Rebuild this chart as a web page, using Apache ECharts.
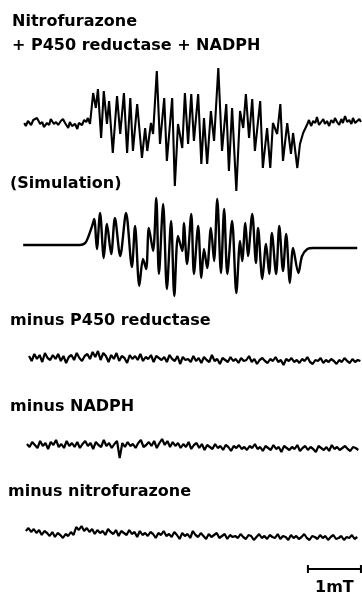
<!DOCTYPE html>
<html>
<head>
<meta charset="utf-8">
<script src="https://cdn.jsdelivr.net/npm/echarts@6/dist/echarts.min.js"></script>
<style>html,body{margin:0;padding:0;background:#fff}#c{width:362px;height:597px}</style>
</head>
<body>
<div id="c"></div>
<script>
// Field in mT, intensity in arbitrary units (positive = up)
const labels = ["Nitrofurazone", "+ P450 reductase + NADPH", "(Simulation)", "minus P450 reductase", "minus NADPH", "minus nitrofurazone"];
const scaleBarLabel = "1mT";
const scaleBarField = [5.43, 6.43];

const field1 = [0.08,0.11,0.15,0.21,0.25,0.28,0.32,0.38,0.42,0.45,0.51,0.55,0.58,0.64,0.68,0.72,0.77,0.81,0.85,0.91,0.94,0.98,1.04,1.08,1.11,1.17,1.21,1.25,1.28,1.32,
1.38,1.43,1.47,1.53,1.58,1.64,1.68,1.75,1.83,1.89,1.96,2.02,2.08,2.13,2.21,2.30,2.36,2.40,2.47,2.51,2.58,2.64,2.72,2.77,2.87,2.92,2.98,3.06,3.11,3.17,3.23,3.28,3.36,3.42,3.47,3.53,3.60,3.66,3.74,3.81,3.89,3.94,4.00,4.08,4.15,4.21,4.26,4.32,4.38,4.43,4.53,4.58,4.66,4.72,4.77,4.85,4.91,4.96,5.04,5.11,5.15,5.23,5.28,5.34,
5.42,5.45,5.49,5.53,5.57,5.60,5.64,5.68,5.72,5.75,5.79,5.83,5.87,5.91,5.94,5.98,6.02,6.06,6.09,6.13,6.17,6.21,6.25,6.28,6.32,6.36,6.40,6.43];
const intensity1 = [0,-3,2,-2,3,1,5,-1,1,-4,0,-2,4,-1,1,-2,2,4,0,-5,1,-3,-1,-6,0,-2,3,1,5,-1,
30,15,34,-15,32,-1,22,-30,27,-11,30,-30,25,-28,19,-35,-5,-28,0,-11,52,-21,25,-38,25,-63,-1,-25,30,-21,29,-18,29,-41,5,-41,12,-18,55,-28,19,-48,15,-68,12,-5,29,-15,24,-28,22,-45,-5,-45,0,-11,19,-38,0,-31,-10,-45,-21,-10,
-1,3,-3,2,0,6,-2,1,4,-1,2,-3,3,0,5,1,-2,4,0,7,1,3,-1,5,0,2,4,1];

// Trace 2: simulation
const field2 = [0.06,0.38,0.75,1.13,1.23,1.28,1.36,1.40,1.45,1.51,1.58,1.64,1.72,1.79,1.89,2.00,2.11,2.17,2.25,2.32,2.38,2.43,2.51,2.57,2.62,2.70,2.77,2.85,2.91,2.98,3.06,3.09,3.15,3.23,3.28,3.36,3.42,3.47,3.53,3.60,3.66,3.72,3.79,3.85,3.91,4.00,4.08,4.15,4.19,4.25,4.30,4.38,4.45,4.49,4.57,4.64,4.70,4.75,4.83,4.89,4.96,5.02,5.09,5.15,5.25,5.32,5.42,5.53,5.66,5.79,6.04,6.36];
const intensity2 = [0,0,0,0,2,7,19,26,-4,32,-13,21,-9,27,-11,32,-22,19,-41,-14,-24,17,-6,47,-29,41,-44,24,-51,9,-6,22,-19,31,-29,19,-33,-4,-23,17,-16,46,-28,36,-29,24,-48,4,-16,22,-11,31,-18,17,-34,1,-29,12,-29,19,-26,11,-38,-3,-28,-11,-4,-3,-3,-3,-3,-3];

// Control traces: uniform field sweep (start, step in mT)
const sweepStep = 0.05;
const start3 = 0.17, start4 = 0.13, start5 = 0.11;
const intensity3 = [2,-3,4,-1,3,-4,5,0,-2,3, -1,4,-3,2,-5,1,3,-2,5,0, -3,2,4,-1,6,1,7,-2,5,2, -4,3,-1,5,-3,2,0,-5,3,-1,
2,-2,4,-3,1,-1,3,-4,2,0, -2,1,-4,3,-1,-3,2,-6,1,-2, -1,-4,2,-3,0,-5,1,-2,-4,3, -3,-1,-6,0,-2,-4,1,-3,-1,-5,
0,-3,-2,2,-4,-1,-6,-2,0,-3, -5,-1,-3,1,-4,-2,-7,-1,-3,0, -4,-2,-5,-1,-3,1,-4,-6,-2,-3, 0,-5,-2,-4,-1,-3,-6,-2,-4,0, -3,-5,-1,-4,-2,-3];
const intensity4 = [1,-2,3,0,-3,4,-1,2,-4,3, 0,5,-2,1,-3,4,-1,2,-2,3, -3,1,4,-1,2,-4,3,0,-2,5, -1,2,-3,1,4,-13,2,-2,3,-1,
1,-3,2,5,-2,0,3,-1,4,-3, 2,6,0,4,-2,3,-1,2,-3,1, -2,3,-4,0,2,-3,1,-5,0,-2, -4,1,-3,-1,-5,0,-2,-6,-1,-3,
0,-4,-2,-5,-1,-3,1,-4,-2,-6, -1,-3,-5,0,-4,-2,-7,-1,-3,-5, -2,-4,0,-6,-3,-1,-5,-2,-4,-7, -1,-3,-5,-2,-6,0,-4,-2,-5,-3, -1,-4,-6,-2,-3,-5];
const intensity5 = [2,5,1,4,0,3,-2,2,0,-3, 1,-4,0,-2,-5,-1,-3,1,-2,6, 3,7,2,5,1,4,-1,3,0,2, -2,4,1,-1,3,-3,2,0,-2,3,
-1,1,-4,2,-2,0,-3,1,-1,-5, 0,-2,2,-3,-1,-4,1,-2,-6,0, -3,-1,-5,2,-2,-4,0,-3,-6,-1, -4,-2,0,-5,-3,-1,-6,-2,-4,-3,
-5,-1,-4,-6,-2,-3,-7,-4,-1,-5, -3,-6,-2,-4,-5,-1,-6,-3,-4,-7, -2,-5,-3,-6,-4,-1,-5,-7,-3,-4, -6,-2,-5,-3,-7,-4,-2,-6,-5,-3, -7,-4,-5,-2,-6,-4];

function pairs(xs, ys) { return ys.map((y, i) => [xs[i], y]); }
function sweep(start, ys) { return ys.map((y, i) => [+(start + i * sweepStep).toFixed(3), y]); }

// grid layout: [top, height, yMin, yMax]
const gridsSpec = [
  [55, 145, -77, 68],
  [190, 115, -60, 55],
  [340, 36, -18, 18],
  [427, 36, -18, 18],
  [513, 36, -16, 20],
  [559, 20, -10, 10]
];
const grid = gridsSpec.map(g => ({ left: 20, right: 0, top: g[0], height: g[1] }));
const xAxis = gridsSpec.map((g, i) => ({ type: 'value', gridIndex: i, min: 0, max: 6.45, show: false }));
const yAxis = gridsSpec.map((g, i) => ({ type: 'value', gridIndex: i, min: g[2], max: g[3], show: false }));

const lineBase = { type: 'line', showSymbol: false, silent: true, animation: false };
const series = [
  Object.assign({}, lineBase, { xAxisIndex: 0, yAxisIndex: 0, data: pairs(field1, intensity1), lineStyle: { color: '#000', width: 2.1 } }),
  Object.assign({}, lineBase, { xAxisIndex: 1, yAxisIndex: 1, data: pairs(field2, intensity2), smooth: 0.3, lineStyle: { color: '#000', width: 2.4 } }),
  Object.assign({}, lineBase, { xAxisIndex: 2, yAxisIndex: 2, data: sweep(start3, intensity3), lineStyle: { color: '#000', width: 2.2 } }),
  Object.assign({}, lineBase, { xAxisIndex: 3, yAxisIndex: 3, data: sweep(start4, intensity4), lineStyle: { color: '#000', width: 2.2 } }),
  Object.assign({}, lineBase, { xAxisIndex: 4, yAxisIndex: 4, data: sweep(start5, intensity5), lineStyle: { color: '#000', width: 2.2 } }),
  { type: 'line', xAxisIndex: 5, yAxisIndex: 5, silent: true, animation: false,
    data: scaleBarField.map(f => [f, 0]), showSymbol: true, symbol: 'rect', symbolSize: [2, 8],
    itemStyle: { color: '#000' }, lineStyle: { color: '#000', width: 2 } }
];

const font = { fontFamily: 'DejaVu Sans', fontWeight: 'bold', fontSize: 16, fill: '#000' };
const textPos = [[12, 23], [12, 47], [10, 185], [10, 322], [10, 408], [8, 493]];
const graphic = labels.map((t, i) => ({
  type: 'text', left: textPos[i][0], top: textPos[i][1] - 9,
  style: Object.assign({ text: t }, font)
}));
graphic.push({ type: 'text', left: 315, top: 580, style: Object.assign({ text: scaleBarLabel }, font) });

const chart = echarts.init(document.getElementById('c'), null, { renderer: 'canvas' });
chart.setOption({ animation: false, grid, xAxis, yAxis, series, graphic });
</script>
</body>
</html>
